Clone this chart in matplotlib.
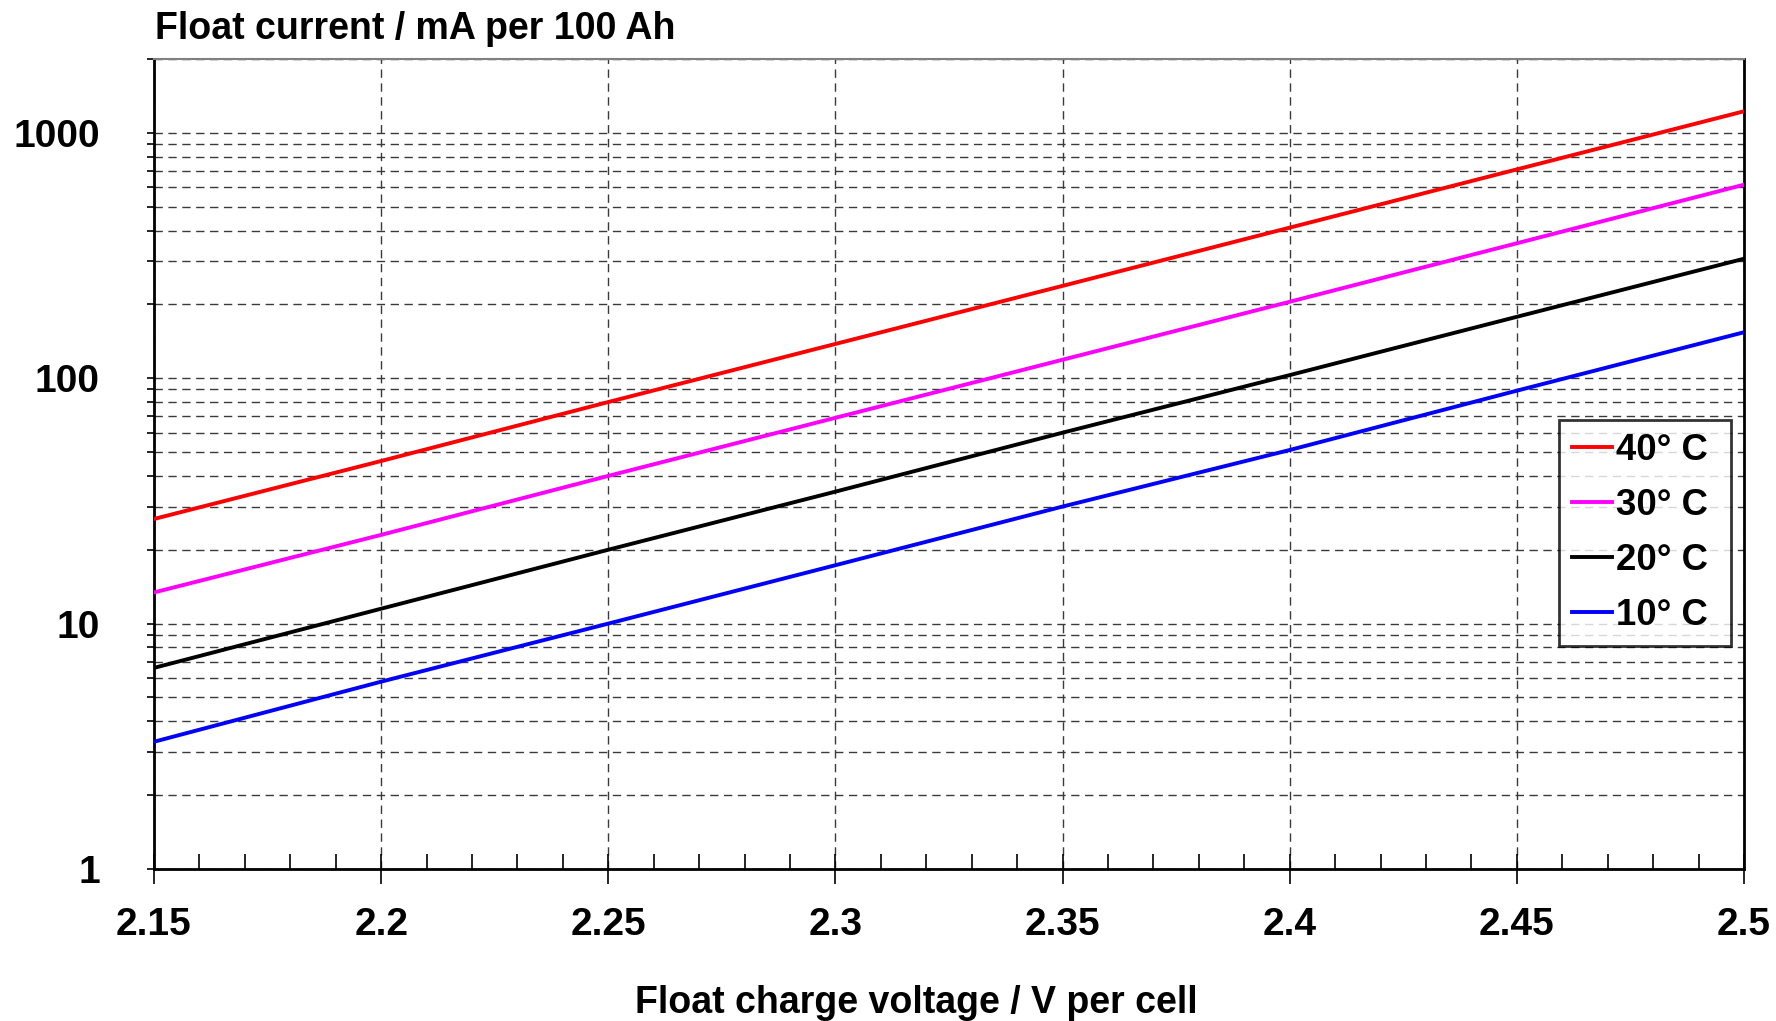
import matplotlib
matplotlib.use("Agg")
import matplotlib.pyplot as plt
import numpy as np
from matplotlib.ticker import FixedLocator, LogLocator, MultipleLocator, NullFormatter

plt.rcParams["font.family"] = ["Liberation Sans", "DejaVu Sans"]
plt.rcParams["font.weight"] = "bold"

voltage = [2.15, 2.20, 2.25, 2.30, 2.35, 2.40, 2.45, 2.50]
current_40 = [26.7, 46, 80, 138, 238, 411, 710, 1225]
current_30 = [13.4, 23, 40, 69, 119, 205, 355, 615]
current_20 = [6.6, 11.5, 20, 34.5, 60, 103, 178, 307]
current_10 = [3.3, 5.8, 10, 17.3, 30, 51, 89, 154]

series = [
    ("40° C", current_40, "#ff0000"),
    ("30° C", current_30, "#ff00ff"),
    ("20° C", current_20, "#000000"),
    ("10° C", current_10, "#0000ff"),
]

x_ticks = [2.15, 2.2, 2.25, 2.3, 2.35, 2.4, 2.45, 2.5]
x_labels = ["2.15", "2.2", "2.25", "2.3", "2.35", "2.4", "2.45", "2.5"]
y_ticks = [1, 10, 100, 1000]
y_labels = ["1", "10", "100", "1000"]

fig = plt.figure(figsize=(17.76, 10.21), dpi=100)
ax = fig.add_axes([0.0867, 0.1489, 0.8953, 0.7933])

for label, values, color in series:
    ax.plot(voltage, values, color=color, lw=2.8, label=label, zorder=3)

ax.set_yscale("log")
ax.set_xlim(2.15, 2.5)
ax.set_ylim(1, 2000)

ax.xaxis.set_major_locator(FixedLocator(x_ticks))
ax.set_xticklabels(x_labels)
ax.xaxis.set_minor_locator(MultipleLocator(0.01))
ax.yaxis.set_major_locator(FixedLocator(y_ticks))
ax.set_yticklabels(y_labels)
ax.yaxis.set_minor_locator(LogLocator(base=10, subs=np.arange(2, 10)))
ax.yaxis.set_minor_formatter(NullFormatter())

grid_style = dict(color="#3a3a3a", lw=1.0, linestyle=(0, (6, 4)))
ax.grid(True, which="major", axis="x", **grid_style)
ax.grid(True, which="both", axis="y", **grid_style)

ax.tick_params(axis="x", which="major", direction="inout", length=22, width=1.2,
               labelsize=28, pad=16.5)
ax.tick_params(axis="x", which="minor", direction="in", length=11, width=1.2)
ax.tick_params(axis="y", which="both", direction="out", length=5, width=1.2,
               labelsize=28, pad=34)
for lab in ax.get_xticklabels() + ax.get_yticklabels():
    lab.set_fontweight("bold")

for side in ["left", "bottom", "right"]:
    ax.spines[side].set_color("black")
    ax.spines[side].set_linewidth(2.0)
ax.spines["top"].set_color("#808080")
ax.spines["top"].set_linewidth(1.5)

fig.text(0.0873, 0.972, "Float current / mA per 100 Ah", fontsize=27,
         fontweight="bold", ha="left", va="center")
fig.text(0.5157, 0.018, "Float charge voltage / V per cell", fontsize=27,
         fontweight="bold", ha="center", va="center")

leg = ax.legend(loc="upper left", bbox_to_anchor=(0.8778, 0.3, 0.0969, 0.2886),
                bbox_transform=fig.transFigure, mode="expand", fontsize=26.3,
                frameon=True, fancybox=False, edgecolor="black",
                handlelength=1.1, handletextpad=0.12, labelspacing=0.55,
                borderpad=0.35, borderaxespad=0)
leg.get_frame().set_linewidth(2.0)
for t in leg.get_texts():
    t.set_fontweight("bold")
for h in leg.get_lines():
    h.set_linewidth(2.8)

fig.savefig("out.png", dpi=100, facecolor="white")
